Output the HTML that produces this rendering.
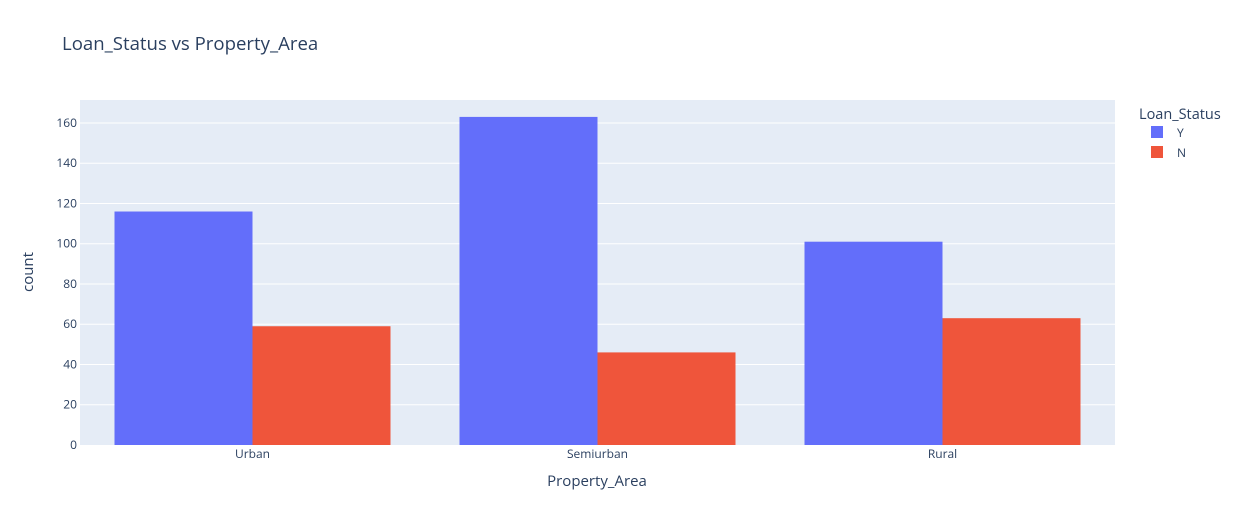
<!DOCTYPE html>
<html><head><meta charset="utf-8"><style>
body{margin:0;background:#fff;font-family:"Open Sans","Liberation Sans",sans-serif;}
svg text{font-family:"Open Sans","Liberation Sans",sans-serif;}
</style></head><body>
<svg id="chart" width="1242" height="525">
<rect x="0" y="0" width="1242" height="525" fill="#fff"/>
<text x="62" y="50" font-size="18.6" fill="#2a3f5f">Loan_Status vs Property_Area</text>
<rect x="80" y="100" width="1035" height="345" fill="#e5ecf6"/>
<g id="grid"></g><g id="bars"></g><g id="axes"></g>
<text x="597" y="486" font-size="15" fill="#2a3f5f" text-anchor="middle">Property_Area</text>
<text transform="translate(33,272) rotate(-90)" font-size="15" fill="#2a3f5f" text-anchor="middle">count</text>
<text x="1139" y="119" font-size="14.5" fill="#2a3f5f">Loan_Status</text>
<g><rect x="1151" y="126" width="12" height="12" fill="#636efa"/><text x="1177" y="137" font-size="12" fill="#2a3f5f">Y</text></g>
<g><rect x="1151" y="146" width="12" height="12" fill="#ef553b"/><text x="1177" y="157" font-size="12" fill="#2a3f5f">N</text></g>
</svg>
<script>
const categories=["Urban","Semiurban","Rural"];
const seriesY=[116,163,101];
const seriesN=[59,46,63];
const yTicks=[0,20,40,60,80,100,120,140,160];
const NS="http://www.w3.org/2000/svg";
const X0=80,W=1035,Y0=445,H=345,YMAX=171.4;
const yScale=v=>Y0-v/YMAX*H;
const band=W/categories.length;
const xScale=i=>X0+i*band;
function mk(tag,attrs,parent){const e=document.createElementNS(NS,tag);for(const k in attrs)e.setAttribute(k,attrs[k]);parent.appendChild(e);return e;}
const grid=document.getElementById('grid'),bars=document.getElementById('bars'),axes=document.getElementById('axes');
yTicks.forEach(t=>{
 const y=yScale(t);
 if(t>0){const l=mk('line',{x1:X0,x2:X0+W,y1:y,y2:y,stroke:'#fff','stroke-width':1},grid);
 
 }
 const tx=mk('text',{x:X0-3,y:y+4,'font-size':12,fill:'#2a3f5f','text-anchor':'end'},axes);
 tx.textContent=t;
 
 
});
categories.forEach((c,i)=>{
 const bw=band*0.4, start=xScale(i)+band*0.1;
 [[seriesY,'#636efa','y'],[seriesN,'#ef553b','n']].forEach((s,j)=>{
  const v=s[0][i];
  const r=mk('rect',{x:start+j*bw,y:yScale(v),width:bw,height:Y0-yScale(v),fill:s[1]},bars);
  
  
 });
 const tx=mk('text',{x:xScale(i)+band/2,y:Y0+13,'font-size':12,fill:'#2a3f5f','text-anchor':'middle'},axes);
 tx.textContent=c;
 
 
});
</script>
</body></html>
